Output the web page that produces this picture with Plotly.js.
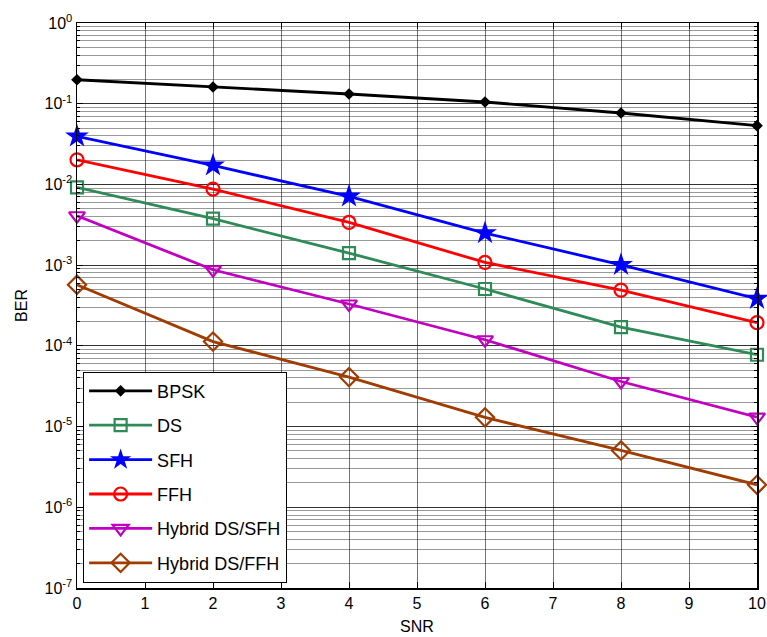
<!DOCTYPE html>
<html>
<head>
<meta charset="utf-8">
<script src="https://cdn.plot.ly/plotly-3.0.1.min.js"></script>
<style>html,body{margin:0;padding:0;background:#fff;}#chart{width:767px;height:637px;}</style>
</head>
<body>
<div id="chart"></div>
<script>
var snr = [0, 2, 4, 6, 8, 10];
var berBPSK = [0.198, 0.161, 0.132, 0.105, 0.0767, 0.0534];
var berDS = [0.00918, 0.00376, 0.00141, 5.06e-4, 1.71e-4, 7.76e-5];
var berSFH = [0.0394, 0.0172, 0.0071, 0.0025, 1.01e-3, 3.84e-4];
var berFFH = [0.0202, 0.00877, 0.00338, 1.08e-3, 4.91e-4, 1.94e-4];
var berHybSFH = [0.00409, 8.77e-4, 3.3e-4, 1.19e-4, 3.62e-5, 1.31e-5];
var berHybFFH = [5.72e-4, 1.13e-4, 4.1e-5, 1.30e-5, 5.06e-6, 1.90e-6];
var seriesNames = ["BPSK", "DS", "SFH", "FFH", "Hybrid DS/SFH", "Hybrid DS/FFH"];
var yTickVals = [1e-7, 1e-6, 1e-5, 1e-4, 1e-3, 1e-2, 1e-1, 1];
var yTickText = ["10<sup>-7</sup>", "10<sup>-6</sup>", "10<sup>-5</sup>", "10<sup>-4</sup>", "10<sup>-3</sup>", "10<sup>-2</sup>", "10<sup>-1</sup>", "10<sup>0</sup>"];
var xTickVals = [0, 1, 2, 3, 4, 5, 6, 7, 8, 9, 10];

var styles = [
  {color: "#000000", symbol: "diamond", size: 9, lw: 0},
  {color: "#2e8b57", symbol: "square-open", size: 12, lw: 2.2},
  {color: "#0000ff", symbol: "star", size: 18, lw: 0},
  {color: "#ff0000", symbol: "circle-open", size: 13, lw: 2.2},
  {color: "#c000c0", symbol: "triangle-down-open", size: 14, lw: 2.2},
  {color: "#a03c00", symbol: "diamond-open", size: 14, lw: 2.2}
];
var allY = [berBPSK, berDS, berSFH, berFFH, berHybSFH, berHybFFH];

var traces = allY.map(function (ys, i) {
  var s = styles[i];
  return {
    x: snr, y: ys, name: seriesNames[i], type: "scatter", mode: "lines+markers",
    legendgroup: "g" + i, cliponaxis: false,
    line: {color: s.color, width: 2.8},
    marker: {color: s.color, symbol: s.symbol, size: s.size, line: {color: s.color, width: s.lw}}
  };
});

var minorVals = [];
for (var k = -7; k < 0; k++) {
  for (var m = 2; m <= 9; m++) minorVals.push(m * Math.pow(10, k));
}

var font = "Liberation Sans, Arial, Helvetica, sans-serif";
var layout = {
  width: 767, height: 637,
  margin: {l: 77, r: 10, t: 23, b: 49},
  paper_bgcolor: "#fff", plot_bgcolor: "#fff",
  font: {family: font, size: 16, color: "#000"},
  showlegend: true,
  xaxis: {
    range: [0, 10], tickmode: "array", tickvals: xTickVals,
    showgrid: true, gridcolor: "rgba(0,0,0,0.55)", gridwidth: 1,
    zeroline: false, showline: true, linecolor: "#000", linewidth: 1.5, mirror: "ticks",
    ticks: "inside", ticklen: 6, tickcolor: "#000",
    tickfont: {size: 16},
    title: {text: "SNR", font: {size: 16}, standoff: 10}
  },
  yaxis: {
    type: "log", range: [-7, 0], tickmode: "array", tickvals: yTickVals, ticktext: yTickText,
    showgrid: true, gridcolor: "rgba(0,0,0,0.8)", gridwidth: 1,
    zeroline: false, showline: true, linecolor: "#000", linewidth: 1.5, mirror: "ticks",
    ticks: "inside", ticklen: 6, tickcolor: "#000",
    tickfont: {size: 16},
    minor: {tickmode: "array", tickvals: minorVals, showgrid: true, gridcolor: "rgba(0,0,0,0.4)", gridwidth: 1, ticks: "inside", ticklen: 3, tickcolor: "#000"},
    title: {text: "BER", font: {size: 16}, standoff: 13}
  },
  legend: {
    x: 0.009, y: 0.383, xanchor: "left", yanchor: "top",
    bgcolor: "#fff", bordercolor: "#000", borderwidth: 1,
    font: {size: 18, family: font},
    tracegroupgap: 8, traceorder: "grouped", itemwidth: 63
  }
};

Plotly.newPlot("chart", traces, layout, {displayModeBar: false, staticPlot: true});
</script>
</body>
</html>
